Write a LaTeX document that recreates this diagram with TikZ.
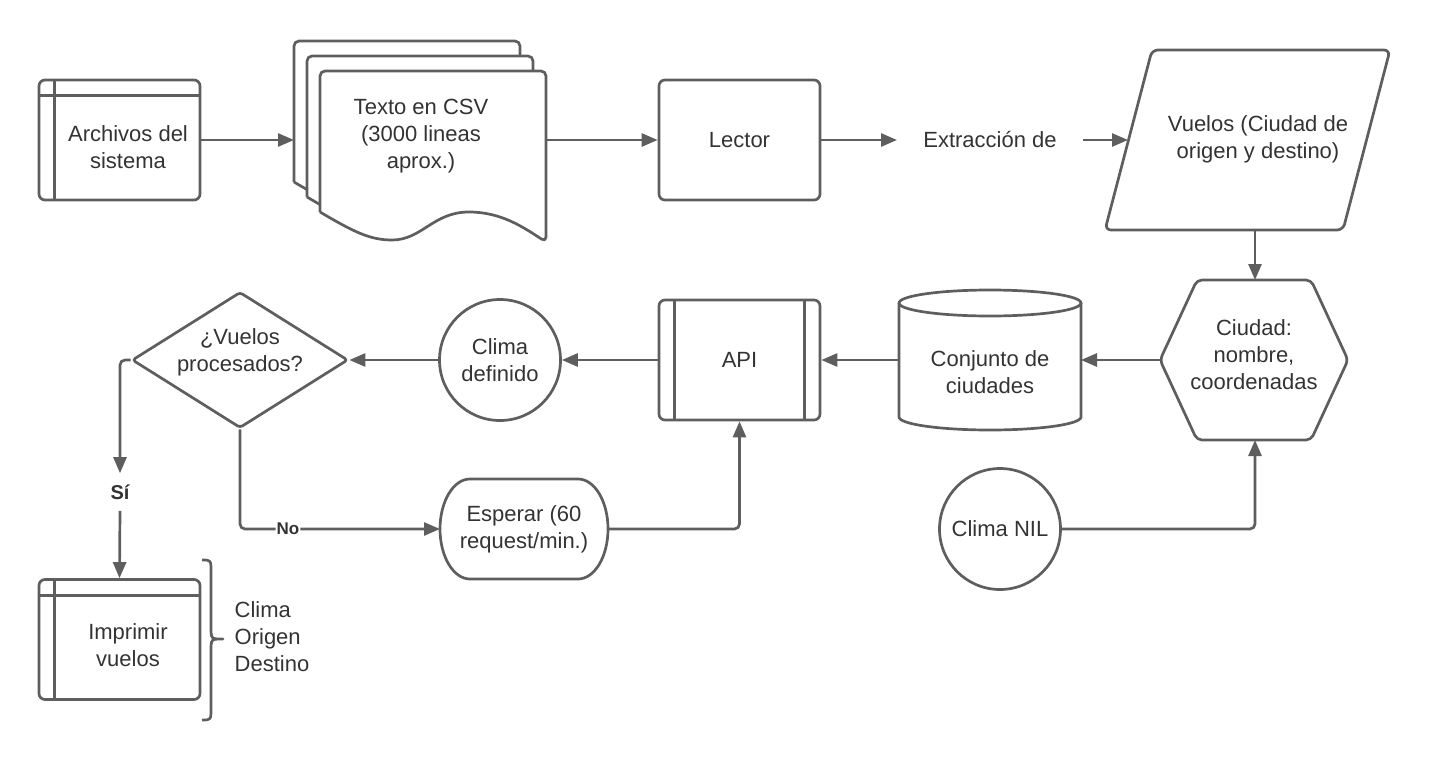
\documentclass[tikz,border=0pt]{standalone}
\usepackage{fontspec}
\setmainfont{Liberation Sans}
\usetikzlibrary{arrows.meta,shapes.geometric}
\definecolor{linegray}{RGB}{94,94,94}
\definecolor{textgray}{RGB}{51,51,51}
\begin{document}
\begin{tikzpicture}[x=1pt,y=-1pt,line width=2.7pt,draw=linegray,line join=round,
    every node/.style={font=\fontsize{22}{27}\selectfont,align=center,text=textgray},
    box/.style={draw=linegray,rounded corners=6pt,minimum width=161pt,minimum height=120pt},
    ball/.style={draw=linegray,circle,minimum size=121pt,inner sep=0pt},
    arr/.style={draw=linegray,-{Triangle[length=16pt,width=13pt]}},
    tag/.style={font=\fontsize{#1}{#1}\bfseries\selectfont,inner sep=1pt}]
  \useasboundingbox (0,0) rectangle (1445,760);
  % first row
  \node (arch) [box] at (119.5,140) {};
  \draw ([xshift=17pt]arch.north west) -- ([xshift=17pt]arch.south west);
  \draw ([yshift=-17pt]arch.north west) -- ([yshift=-17pt]arch.north east);
  \node (archT) at (128,147) {Archivos del\\sistema};
  \foreach \dx/\dy in {0/0,13/15,26/30} {
    \begin{scope}[shift={(\dx,\dy)}]
      \filldraw [fill=white,rounded corners=5pt] (294,182) -- (294,41) -- (520,41) -- (520,212)
        [sharp corners] .. controls (497,197) and (475,182) .. (443,182)
        .. controls (407,182) and (396,210) .. (366,210)
        .. controls (344,210) and (328,202) .. (294,182);
    \end{scope}
  }
  \coordinate (docW) at (294,140);
  \coordinate (docE) at (546,140);
  \node (docT) at (421,136) {Texto en CSV\\(3000 lineas\\aprox.)};
  \node (lector) [box] at (739.5,140) {Lector};
  \node (extr) [inner xsep=25pt] at (990,140) {Extracción de};
  \draw [rounded corners=6pt] (1105,230) -- (1152,50) -- (1390,50) -- (1343,230) -- cycle;
  \coordinate (vueW) at (1128,140);
  \coordinate (vueS) at (1255,230);
  \node (vuelos) at (1258,139) {Vuelos (Ciudad de\\origen y destino)};
  % second row
  \draw [rounded corners=5pt] (1160,360) -- (1197,280) -- (1311,280) -- (1348,360)
    -- (1311,440) -- (1197,440) -- cycle;
  \coordinate (hexN) at (1255,280);
  \coordinate (hexS) at (1255,440);
  \coordinate (hexW) at (1160,360);
  \node (ciudad) at (1254,355) {Ciudad:\\nombre,\\coordenadas};
  \draw (899,303) -- (899,417) arc [start angle=180,end angle=360,x radius=91pt,y radius=13pt] -- (1081,303);
  \draw (990,303) ellipse [x radius=91pt,y radius=13pt];
  \coordinate (cylE) at (1081,360);
  \coordinate (cylW) at (899,360);
  \node (conj) at (990,372) {Conjunto de\\ciudades};
  \node (api) [box] at (739.5,360) {API};
  \draw ([xshift=17pt]api.north west) -- ([xshift=17pt]api.south west);
  \draw ([xshift=-17pt]api.north east) -- ([xshift=-17pt]api.south east);
  \node (def) [ball] at (500,360) {Clima\\definido};
  \node (proc) [draw,diamond,rounded corners=3pt,minimum width=216pt,minimum height=136pt,inner sep=0pt,aspect=1.6] at (240,360) {};
  \node (procT) at (240,352) {¿Vuelos\\procesados?};
  % third row
  \node (si) [tag=20,inner ysep=10pt] at (120,492) {Sí};
  \node (imp) [box] at (119.5,639.5) {};
  \draw ([xshift=17pt]imp.north west) -- ([xshift=17pt]imp.south west);
  \draw ([yshift=-17pt]imp.north west) -- ([yshift=-17pt]imp.north east);
  \node (impT) at (128,645) {Imprimir\\vuelos};
  \draw (202,560) .. controls (211,560) .. (211,572) -- (211,627) .. controls (211,639) .. (223,639)
    .. controls (211,639) .. (211,651) -- (211,708) .. controls (211,720) .. (202,720);
  \node (campos) [align=left,anchor=west] at (230,637) {Clima\\Origen\\Destino};
  \draw (470,479) -- (578,479) arc [start angle=90,end angle=-90,x radius=30pt,y radius=50pt]
    -- (470,579) arc [start angle=270,end angle=90,x radius=30pt,y radius=50pt];
  \coordinate (espW) at (440,529);
  \coordinate (espE) at (608,529);
  \node (esp) at (524,529) {Esperar (60\\request/min.)};
  \node (nil) [ball] at (1000,529) {Clima NIL};
  % connectors
  \draw [arr] (arch.east) -- (docW);
  \draw [arr] (docE) -- (lector.west);
  \draw [arr] (lector.east) -- (extr.west);
  \draw [arr] (extr.east) -- (vueW);
  \draw [arr] (vueS) -- (hexN);
  \draw [arr] (hexW) -- (cylE);
  \draw [arr] (cylW) -- (api.east);
  \draw [arr] (api.west) -- (def.east);
  \draw [arr] (def.west) -- (proc.east);
  \draw [arr,rounded corners=5pt] (proc.west) -| (si.north);
  \draw [arr] (si.south) -- (imp.north);
  \draw [arr,rounded corners=5pt] (proc.south) |- (espW) node (no) [tag=17,fill=white,pos=0.62] {No};
  \draw [arr,rounded corners=5pt] (espE) -| (api.south);
  \draw [arr,rounded corners=5pt] (nil.east) -| (hexS);
\end{tikzpicture}
\end{document}
